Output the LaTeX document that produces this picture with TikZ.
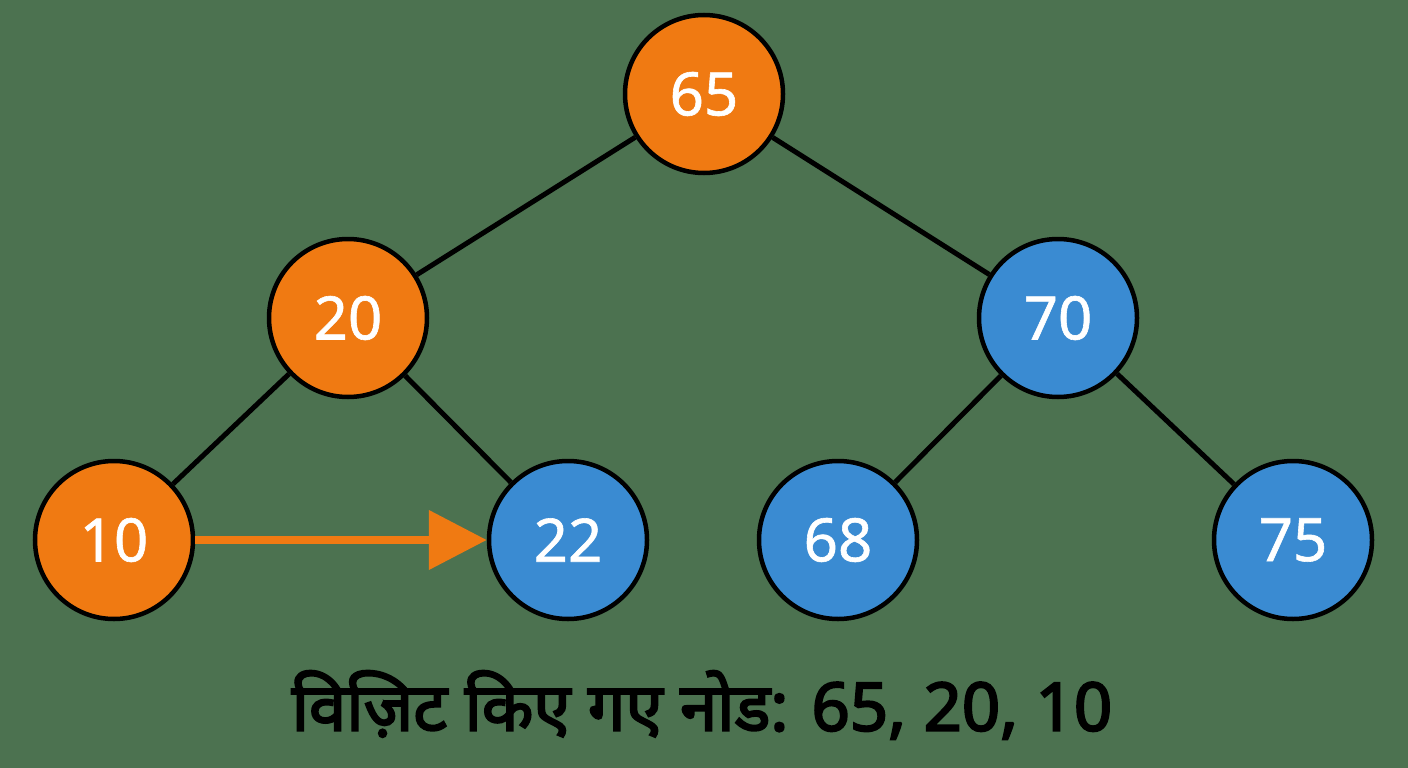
\documentclass[tikz,border=0pt]{standalone}
\usepackage{fontspec}
\setmainfont{Noto Sans}
\newfontfamily\hindib[Script=Devanagari, FakeBold=3]{Noto Sans}
\newfontfamily\numf[FakeBold=1]{Noto Sans}
\usetikzlibrary{arrows.meta}
\definecolor{bg}{RGB}{76,114,80}
\definecolor{orn}{RGB}{240,122,18}
\definecolor{blu}{RGB}{58,139,210}
\tikzset{
  tnode/.style={circle, draw=black, line width=4.5pt, minimum size=158pt, inner sep=0pt, text=white, font=\numf\fontsize{60}{62}\selectfont},
  vis/.style={tnode, fill=orn},
  unv/.style={tnode, fill=blu},
  edge/.style={draw=black, line width=5pt},
  visarrow/.style={draw=orn, line width=8pt, -{Triangle[length=58pt,width=58pt]}}
}
\begin{document}
\begin{tikzpicture}[x=1pt,y=-1pt]
\fill[bg] (0,0) rectangle (1408,768);
\useasboundingbox (0,0) rectangle (1408,768);
\node[vis] (n65) at (704,94) {65};
\node[vis] (n20) at (348,318) {20};
\node[unv] (n70) at (1058,318) {70};
\node[vis] (n10) at (114,540) {10};
\node[unv] (n22) at (568,540) {22};
\node[unv] (n68) at (838,540) {68};
\node[unv] (n75) at (1293,540) {75};
\draw[edge] (n65) -- (n20);
\draw[edge] (n65) -- (n70);
\draw[edge] (n20) -- (n10);
\draw[edge] (n20) -- (n22);
\draw[edge] (n70) -- (n68);
\draw[edge] (n70) -- (n75);
\draw[visarrow] (n10.east) -- (n22.west);
\node[font=\hindib\fontsize{67}{69}\selectfont, text=black] (cap) at (702,705) {विज़िट किए गए नोड: 65, 20, 10};
\end{tikzpicture}
\end{document}
